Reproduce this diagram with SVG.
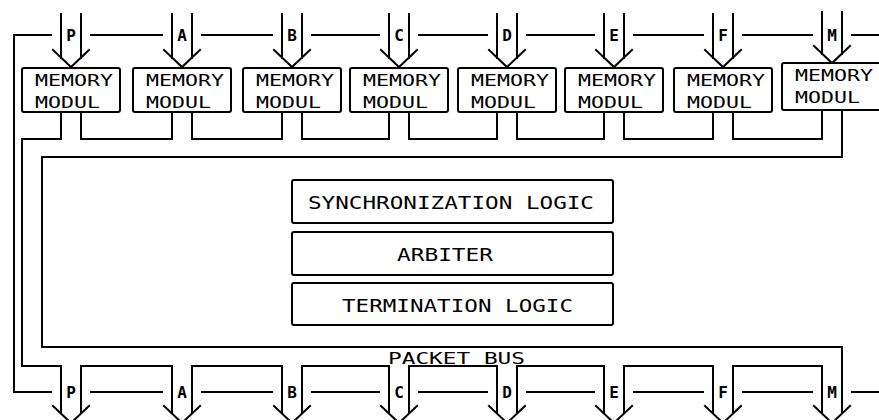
<svg xmlns="http://www.w3.org/2000/svg" width="879" height="420" viewBox="0 0 879 420">
<style>
.ln{fill:none;stroke:#000;stroke-width:2;stroke-linejoin:miter;stroke-linecap:square}
.box{fill:#fff;stroke:#000;stroke-width:2}
.t{font-family:"DejaVu Sans Mono","Liberation Mono",monospace;fill:#000}
.mt{font-size:15px}
.lb{font-size:16px;font-weight:bold;text-anchor:middle}
.ct{font-size:17px}
</style>
<rect width="879" height="420" fill="#fff"/>
<g id="connectors" class="ln">
<path d="M51 35H14V392H51"/>
<path d="M91 35H162M202 35H272M312 35H379M419 35H487M527 35H594M634 35H703M743 35H812M852 35H879"/>
<path d="M91 392H162M202 392H272M312 392H379M419 392H487M527 392H594M634 392H703M743 392H812M852 392H879"/>
<path d="M61 14V58M81 14V58M53 50L71 67L89 50"/>
<path d="M172 14V58M192 14V58M164 50L182 67L200 50"/>
<path d="M282 14V58M302 14V58M274 50L292 67L310 50"/>
<path d="M389 14V58M409 14V58M381 50L399 67L417 50"/>
<path d="M497 14V58M517 14V58M489 50L507 67L525 50"/>
<path d="M604 14V58M624 14V58M596 50L614 67L632 50"/>
<path d="M713 14V58M733 14V58M705 50L723 67L741 50"/>
<path d="M822 12V54M842 12V54M814 46L832 63L850 46"/>
<path d="M61 112V139H22V366H61V413"/>
<path d="M81 112V139H172V112M192 112V139H282V112M302 112V139H389V112M409 112V139H497V112M517 112V139H604V112M624 112V139H713V112M733 112V139H822V110"/>
<path d="M842 110V157H42V347H842V413"/>
<path d="M81 413V366H172V413M192 413V366H282V413M302 413V366H389V413M409 413V366H497V413M517 413V366H604V413M624 413V366H713V413M733 413V366H822V413"/>
<path d="M53 406L71 423L89 406M164 406L182 423L200 406M274 406L292 423L310 406M381 406L399 423L417 406M489 406L507 423L525 406M596 406L614 423L632 406M705 406L723 423L741 406M814 406L832 423L850 406"/>
</g>
<g id="bus-labels-top" class="t lb">
<text x="71" y="41">P</text>
<text x="182" y="41">A</text>
<text x="292" y="41">B</text>
<text x="399" y="41">C</text>
<text x="507" y="41">D</text>
<text x="614" y="41">E</text>
<text x="723" y="41">F</text>
<text x="832" y="41">M</text>
</g>
<g id="bus-labels-bottom" class="t lb">
<text x="71" y="398">P</text>
<text x="182" y="398">A</text>
<text x="292" y="398">B</text>
<text x="399" y="398">C</text>
<text x="507" y="398">D</text>
<text x="614" y="398">E</text>
<text x="723" y="398">F</text>
<text x="832" y="398">M</text>
</g>
<g id="mod-P"><rect class="box" x="22" y="68" width="98" height="44" rx="2"/><text class="t mt" x="35" y="86" textLength="78" lengthAdjust="spacingAndGlyphs">MEMORY</text><text class="t mt" x="35" y="108" textLength="65" lengthAdjust="spacingAndGlyphs">MODUL</text></g>
<g id="mod-A"><rect class="box" x="133" y="68" width="98" height="44" rx="2"/><text class="t mt" x="146" y="86" textLength="78" lengthAdjust="spacingAndGlyphs">MEMORY</text><text class="t mt" x="146" y="108" textLength="65" lengthAdjust="spacingAndGlyphs">MODUL</text></g>
<g id="mod-B"><rect class="box" x="243" y="68" width="98" height="44" rx="2"/><text class="t mt" x="256" y="86" textLength="78" lengthAdjust="spacingAndGlyphs">MEMORY</text><text class="t mt" x="256" y="108" textLength="65" lengthAdjust="spacingAndGlyphs">MODUL</text></g>
<g id="mod-C"><rect class="box" x="350" y="68" width="98" height="44" rx="2"/><text class="t mt" x="363" y="86" textLength="78" lengthAdjust="spacingAndGlyphs">MEMORY</text><text class="t mt" x="363" y="108" textLength="65" lengthAdjust="spacingAndGlyphs">MODUL</text></g>
<g id="mod-D"><rect class="box" x="458" y="68" width="98" height="44" rx="2"/><text class="t mt" x="471" y="86" textLength="78" lengthAdjust="spacingAndGlyphs">MEMORY</text><text class="t mt" x="471" y="108" textLength="65" lengthAdjust="spacingAndGlyphs">MODUL</text></g>
<g id="mod-E"><rect class="box" x="565" y="68" width="98" height="44" rx="2"/><text class="t mt" x="578" y="86" textLength="78" lengthAdjust="spacingAndGlyphs">MEMORY</text><text class="t mt" x="578" y="108" textLength="65" lengthAdjust="spacingAndGlyphs">MODUL</text></g>
<g id="mod-F"><rect class="box" x="674" y="68" width="98" height="44" rx="2"/><text class="t mt" x="687" y="86" textLength="78" lengthAdjust="spacingAndGlyphs">MEMORY</text><text class="t mt" x="687" y="108" textLength="65" lengthAdjust="spacingAndGlyphs">MODUL</text></g>
<g id="mod-M"><rect class="box" x="782" y="63" width="100" height="47" rx="2"/><text class="t mt" x="795" y="81" textLength="78" lengthAdjust="spacingAndGlyphs">MEMORY</text><text class="t mt" x="795" y="103" textLength="65" lengthAdjust="spacingAndGlyphs">MODUL</text></g>
<g id="sync"><rect class="box" x="292" y="180" width="321" height="43" rx="2"/><text class="t ct" x="308" y="209" textLength="286" lengthAdjust="spacingAndGlyphs">SYNCHRONIZATION LOGIC</text></g>
<g id="arbiter"><rect class="box" x="292" y="232" width="321" height="43" rx="2"/><text class="t ct" x="397" y="261" textLength="96" lengthAdjust="spacingAndGlyphs">ARBITER</text></g>
<g id="termination"><rect class="box" x="292" y="283" width="321" height="42" rx="2"/><text class="t ct" x="342" y="312" textLength="231" lengthAdjust="spacingAndGlyphs">TERMINATION LOGIC</text></g>
<g id="packet-bus"><text class="t" font-size="16" x="388" y="364" textLength="137" lengthAdjust="spacingAndGlyphs">PACKET BUS</text></g>
</svg>
